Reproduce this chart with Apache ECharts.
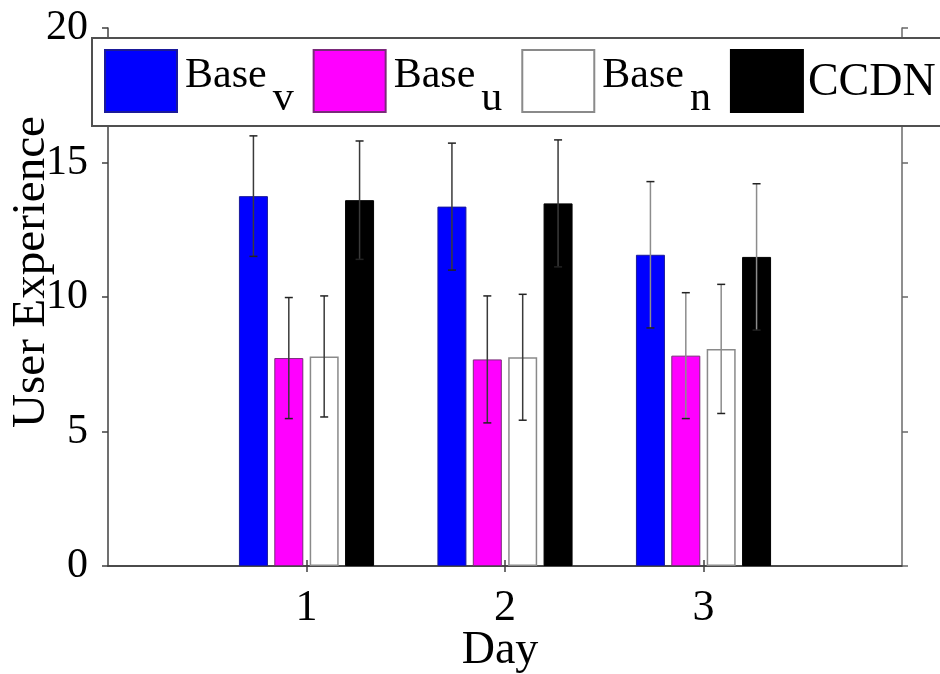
<!DOCTYPE html>
<html><head><meta charset="utf-8">
<script src="https://cdn.jsdelivr.net/npm/echarts@6/dist/echarts.min.js"></script>
<style>html,body{margin:0;padding:0;background:#fff}#c{width:940px;height:674px}</style>
</head><body><div id="c"></div>
<script>
// ---- data ----
const xTicks = ['0', '1', '2', '3', '4'];
const days = ['1', '2', '3'];
const seriesNames = ['Base_v', 'Base_u', 'Base_n', 'CCDN'];
const baseV = [13.75, 13.36, 11.57];
const baseU = [7.73, 7.68, 7.82];
const baseN = [7.79, 7.76, 8.07];
const ccdn  = [13.60, 13.48, 11.49];
const errV = [2.24, 2.36, 2.72];
const errU = [2.25, 2.36, 2.34];
const errN = [2.25, 2.34, 2.40];
const errC = [2.20, 2.36, 2.72];
const yMin = 0, yMax = 20, yStep = 5;

// ---- styling ----
const FONT = '"Liberation Serif", "DejaVu Serif", serif';
const AXIS_COLOR = '#404040';
const BAR_W = 29, BAR_GAP = 0.22;
const PITCH = BAR_W * (1 + BAR_GAP);
const ERR_COLORS = ['#3a3a3a', '#3a3a3a', '#8c8c8c'];
const barStyles = [
  {color: '#0000ff', borderColor: '#1a1a9a', borderWidth: 1},
  {color: '#ff00ff', borderColor: '#7a2a7a', borderWidth: 1},
  {color: '#ffffff', borderColor: '#8a8a8a', borderWidth: 1.5},
  {color: '#000000', borderColor: '#000000', borderWidth: 1}
];
const allVals = [baseV, baseU, baseN, ccdn];
const allErrs = [errV, errU, errN, errC];

const barSeries = seriesNames.map((name, k) => ({
  type: 'bar', name: name,
  xAxisIndex: 0, yAxisIndex: 0,
  barWidth: BAR_W, barGap: (BAR_GAP * 100) + '%',
  itemStyle: barStyles[k],
  data: days.map((d, i) => [d, allVals[k][i]]),
  z: 2
}));

const errSeries = seriesNames.map((name, k) => ({
  type: 'custom', name: name + '_err',
  xAxisIndex: 0, yAxisIndex: 0,
  encode: {x: 0, y: [1, 2]},
  data: days.map((d, i) => [d, allVals[k][i] - allErrs[k][i], allVals[k][i] + allErrs[k][i]]),
  z: 5,
  renderItem: function (params, api) {
    const lo = api.coord([api.value(0), api.value(1)]);
    const hi = api.coord([api.value(0), api.value(2)]);
    const x = lo[0] + (k - 1.5) * PITCH;
    const cap = 4;
    const col = ERR_COLORS[params.dataIndex];
    return {type: 'group', children: [
      {type: 'line', shape: {x1: x, y1: lo[1], x2: x, y2: hi[1]}, style: {stroke: col, lineWidth: 1.5}},
      {type: 'line', shape: {x1: x - cap, y1: hi[1], x2: x + cap, y2: hi[1]}, style: {stroke: '#222', lineWidth: 1.5}},
      {type: 'line', shape: {x1: x - cap, y1: lo[1], x2: x + cap, y2: lo[1]}, style: {stroke: '#222', lineWidth: 1.5}}
    ]};
  }
}));

function legendText(name) {
  const p = name.split('_');
  if (p.length === 2) return '{b|' + p[0] + '}{s|' + p[1] + '}';
  return '{c|' + name + '}';
}

const inner = i => i > 0 && i < xTicks.length - 1;
const axisLine = {show: true, lineStyle: {color: AXIS_COLOR, width: 1.5}};

const option = {
  backgroundColor: '#ffffff',
  animation: false,
  grid: {left: 108, right: 38, top: 28, bottom: 108, outerBoundsMode: 'none', containLabel: false},
  legend: {
    data: seriesNames,
    left: 92, top: 38, width: 880,
    orient: 'horizontal',
    padding: [4, 20, 6, 12],
    itemWidth: 72, itemHeight: 62, itemGap: 19,
    backgroundColor: '#ffffff',
    borderColor: '#505050', borderWidth: 2,
    selectedMode: false,
    icon: 'rect',
    formatter: legendText,
    textStyle: {
      color: '#000', fontFamily: FONT,
      rich: {
        b: {fontSize: 42, lineHeight: 42, fontFamily: FONT, color: '#000', padding: [13, 0, 23, 3]},
        s: {fontSize: 42, lineHeight: 42, fontFamily: FONT, color: '#000', padding: [36, 0, 0, 6]},
        c: {fontSize: 46, lineHeight: 46, fontFamily: FONT, color: '#000', padding: [18, 0, 14, 0]}
      }
    }
  },
  xAxis: [
    {
      type: 'category', data: xTicks, boundaryGap: false, position: 'bottom',
      axisLine: axisLine,
      axisTick: {show: true, inside: false, length: 6, interval: inner, lineStyle: {color: AXIS_COLOR, width: 1.5}},
      axisLabel: {interval: inner, fontSize: 44, fontFamily: FONT, color: '#000', margin: 20},
      splitLine: {show: false},
      name: 'Day', nameLocation: 'middle', nameGap: 62, nameMoveOverlap: false,
      nameTextStyle: {fontSize: 46, fontFamily: FONT, color: '#000', padding: [0, 10, 0, 0]}
    },
    {
      type: 'category', data: xTicks, boundaryGap: false, position: 'top',
      axisLine: axisLine,
      axisTick: {show: true, inside: false, length: 6, interval: inner, lineStyle: {color: AXIS_COLOR, width: 1.5}},
      axisLabel: {show: false},
      splitLine: {show: false}
    }
  ],
  yAxis: [
    {
      type: 'value', min: yMin, max: yMax, interval: yStep, position: 'left',
      axisLine: axisLine,
      axisTick: {show: true, inside: false, length: 6, lineStyle: {color: AXIS_COLOR, width: 1.5}},
      axisLabel: {fontSize: 42, fontFamily: FONT, color: '#000', margin: 20},
      splitLine: {show: false},
      name: 'User Experience', nameLocation: 'middle', nameGap: 53, nameMoveOverlap: false,
      nameTextStyle: {fontSize: 47, fontFamily: FONT, color: '#000', padding: [0, 0, 0, 50]}
    },
    {
      type: 'value', min: yMin, max: yMax, interval: yStep, position: 'right',
      axisLine: {show: true, lineStyle: {color: '#6a6a6a', width: 1.5}},
      axisTick: {show: true, inside: false, length: 6, lineStyle: {color: '#6a6a6a', width: 1.5}},
      axisLabel: {show: false},
      splitLine: {show: false}
    }
  ],
  series: barSeries.concat(errSeries)
};

const chart = echarts.init(document.getElementById('c'), null, {renderer: 'canvas'});
chart.setOption(option);
</script>
</body></html>
